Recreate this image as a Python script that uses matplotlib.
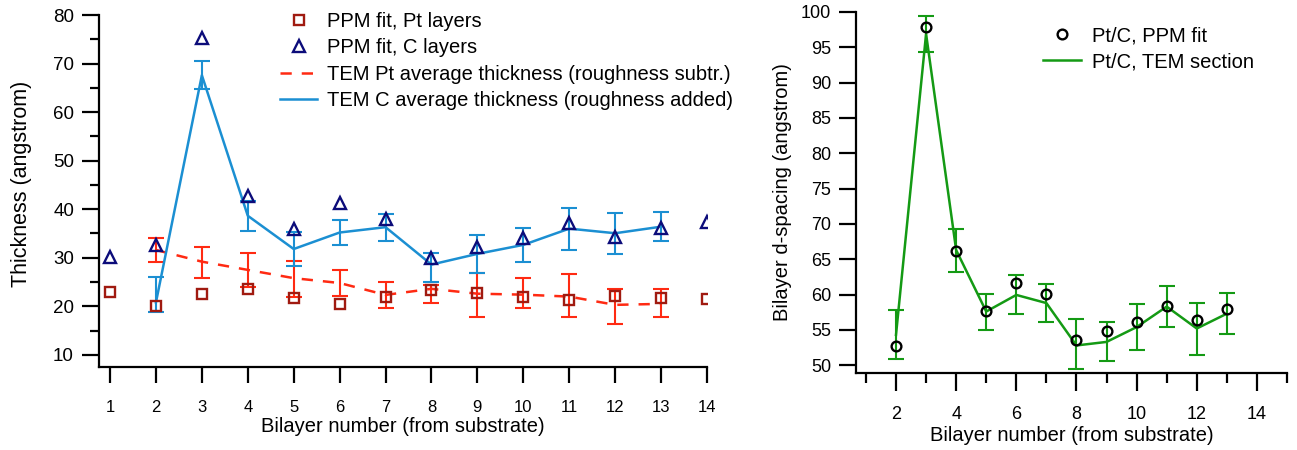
import matplotlib
matplotlib.use("Agg")
import matplotlib.pyplot as plt
from matplotlib.ticker import MultipleLocator

plt.rcParams['font.family'] = ['Liberation Sans', 'DejaVu Sans']

# left panel: layer thickness
layers = [1, 2, 3, 4, 5, 6, 7, 8, 9, 10, 11, 12, 13, 14]
pt_ppm = [23.0, 20.1, 22.55, 23.5, 21.65, 20.4, 22.0, 23.3, 22.7, 22.0, 21.3, 22.1, 21.65, 21.45]
c_ppm = [30.2, 32.65, 75.3, 42.7, 35.9, 41.35, 37.9, 29.9, 32.2, 34.0, 37.1, 34.2, 36.1, 37.45]

tem_layers = [2, 3, 4, 5, 6, 7, 8, 9, 10, 11, 12, 13]
pt_tem = [31.6, 29.2, 27.5, 25.8, 24.8, 22.35, 23.6, 22.6, 22.4, 22.0, 20.3, 20.5]
pt_hi = [34.15, 32.2, 30.9, 29.35, 27.4, 24.95, 24.4, 26.8, 25.8, 26.7, 23.5, 23.5]
pt_lo = [29.2, 25.9, 24.05, 22.0, 22.2, 19.6, 20.65, 17.7, 19.6, 17.75, 16.3, 17.75]
c_tem = [20.8, 67.6, 38.65, 31.8, 35.2, 36.3, 28.6, 30.8, 32.65, 36.0, 35.05, 36.4]
c_hi = [26.1, 70.5, 41.7, 35.3, 37.8, 39.0, 30.9, 34.7, 36.1, 40.3, 39.3, 39.5]
c_lo = [18.9, 64.8, 35.6, 28.3, 32.65, 33.5, 25.1, 26.95, 29.2, 31.5, 30.8, 33.5]

# right panel: bilayer d-spacing
d_ppm = [52.7, 97.9, 66.2, 57.65, 61.65, 60.15, 53.55, 54.85, 56.1, 58.35, 56.4, 57.9]
d_tem = [54.3, 96.9, 66.3, 57.6, 59.95, 58.8, 52.8, 53.3, 55.4, 58.3, 55.2, 57.3]
d_hi = [57.8, 99.5, 69.35, 60.15, 62.75, 61.55, 56.5, 56.05, 58.6, 61.2, 58.8, 60.2]
d_lo = [50.85, 94.3, 63.2, 55.0, 57.2, 56.05, 49.45, 50.55, 52.1, 55.4, 51.5, 54.4]

W, H = 1297, 450
fig = plt.figure(figsize=(W / 100, H / 100), dpi=100)


def err(vals, lo, hi):
    return [[v - l for v, l in zip(vals, lo)], [h - v for v, h in zip(vals, hi)]]


def style_axes(ax):
    for s in ['top', 'right']:
        ax.spines[s].set_visible(False)
    for s in ['left', 'bottom']:
        ax.spines[s].set_linewidth(1.6)
        ax.spines[s].set_color('black')


# ---- left panel
ax1 = fig.add_axes([99 / W, 1 - 367 / H, (707 - 99) / W, (367 - 15) / H])
style_axes(ax1)
red = '#ff2a12'
blue = '#1b8fd2'
ax1.errorbar(tem_layers, pt_tem, yerr=err(pt_tem, pt_lo, pt_hi), fmt='none',
             ecolor=red, elinewidth=1.5, capsize=6, capthick=1.5, zorder=2)
ax1.plot(tem_layers, pt_tem, color=red, lw=1.8, dashes=(4.5, 4),
         label='TEM Pt average thickness (roughness subtr.)', zorder=2)
ax1.errorbar(tem_layers, c_tem, yerr=err(c_tem, c_lo, c_hi), fmt='none',
             ecolor=blue, elinewidth=1.5, capsize=6, capthick=1.5, zorder=2)
ax1.plot(tem_layers, c_tem, color=blue, lw=1.8,
         label='TEM C average thickness (roughness added)', zorder=2)
ax1.plot(layers, pt_ppm, ls='none', marker='s', ms=7.5, mfc='none',
         mec='#a01a10', mew=1.7, label='PPM fit, Pt layers', zorder=3)
ax1.plot(layers, c_ppm, ls='none', marker='^', ms=8, mfc='none',
         mec='#0c0c7a', mew=1.7, label='PPM fit, C layers', zorder=3)

ax1.set_xlim(0.76, 14)
ax1.set_ylim(7.5, 80)
ax1.set_xticks(range(1, 15))
ax1.yaxis.set_major_locator(MultipleLocator(10))
ax1.set_yticks([15, 25, 35, 45, 55, 65, 75], minor=True)
ax1.tick_params(axis='x', direction='out', length=11.5, width=1.6, pad=12, labelsize=12)
ax1.tick_params(axis='y', which='major', direction='out', length=12, width=1.6, pad=6, labelsize=13.5)
ax1.tick_params(axis='y', which='minor', direction='out', length=6.5, width=1.6)
ax1.set_ylabel('Thickness (angstrom)', fontsize=15.5)
ax1.yaxis.set_label_coords(-0.11, 0.52)
ax1.set_xlabel('Bilayer number (from substrate)', fontsize=14.5, labelpad=2)

handles, labels = ax1.get_legend_handles_labels()
order = [2, 3, 0, 1]
ax1.legend([handles[i] for i in order], [labels[i] for i in order],
           loc='upper left', bbox_to_anchor=(280 / W, 1 - 12 / H),
           bbox_transform=fig.transFigure, frameon=False, fontsize=14.5,
           borderpad=0, borderaxespad=0, handlelength=1.85, handletextpad=0.5,
           labelspacing=0.37)

# ---- right panel
ax2 = fig.add_axes([856 / W, 1 - 373 / H, (1287 - 856) / W, (373 - 12) / H])
style_axes(ax2)
green = '#149a14'
ax2.errorbar(tem_layers, d_tem, yerr=err(d_tem, d_lo, d_hi), fmt='none',
             ecolor=green, elinewidth=1.5, capsize=6, capthick=1.5, zorder=2)
ax2.plot(tem_layers, d_ppm, ls='none', marker='o', ms=7, mfc='none', mec='black',
         mew=1.7, label='Pt/C, PPM fit', zorder=3)
ax2.plot(tem_layers, d_tem, color=green, lw=1.8, label='Pt/C, TEM section', zorder=2)

ax2.set_xlim(0.67, 15)
ax2.set_ylim(48.9, 100)
ax2.set_xticks(range(2, 15, 2))
ax2.set_xticks(range(1, 16, 2), minor=True)
ax2.yaxis.set_major_locator(MultipleLocator(5))
ax2.tick_params(axis='x', which='major', direction='out', length=13, width=1.6, pad=11, labelsize=13)
ax2.tick_params(axis='x', which='minor', direction='out', length=7, width=1.6)
ax2.tick_params(axis='y', direction='out', length=12, width=1.6, pad=6, labelsize=13)
ax2.set_ylabel('Bilayer d-spacing (angstrom)', fontsize=14.5, labelpad=6)
ax2.set_xlabel('Bilayer number (from substrate)', fontsize=14.5, labelpad=2)
ax2.legend(loc='upper left', bbox_to_anchor=(1043 / W, 1 - 26 / H),
           bbox_transform=fig.transFigure, frameon=False, fontsize=14.5,
           borderpad=0, borderaxespad=0, handlelength=1.9, handletextpad=0.55,
           labelspacing=0.35)

fig.savefig('out.png', dpi=100)
